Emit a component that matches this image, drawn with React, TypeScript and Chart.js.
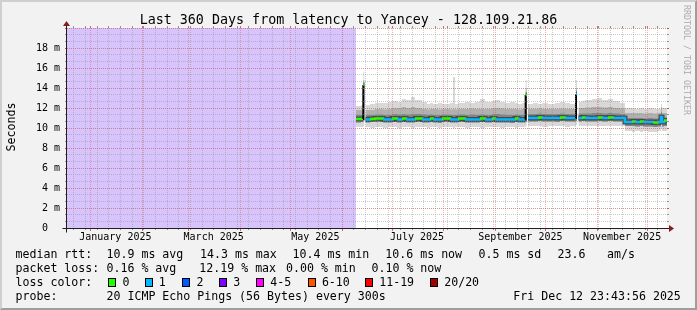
import React, { useEffect, useRef } from 'react';
import { Chart, registerables } from 'chart.js';

Chart.register(...registerables);

const FONT = '"DejaVu Sans Mono", "Liberation Mono", monospace';

// ---------- text ----------
const TITLE = 'Last 360 Days from latency to Yancey - 128.109.21.86';
const Y_TITLE = 'Seconds';
const WATERMARK = 'RRDTOOL / TOBI OETIKER';

// ---------- axes (x in days since graph start, y in ms) ----------
const X_SPAN_DAYS = 360;
const Y_MAX = 20;
const Y_TICKS = [0, 2, 4, 6, 8, 10, 12, 14, 16, 18, 20];
const Y_MINOR_PER_MAJOR = 3;
const MONTH_START_DAYS = [14.011, 45.011, 73.011, 104.011, 134.011, 165.011, 195.011, 226.011, 257.011, 287.011, 318.011, 348.011];
const MONTH_LABEL_DAYS = [29.011, 88.011, 149.011, 210.011, 272.011, 333.011];
const MONTH_LABELS = ['January 2025', 'March 2025', 'May 2025', 'July 2025', 'September 2025', 'November 2025'];
const FIRST_WEEK_DAY = 4.011;
const WEEK_DAYS = 7;

// ---------- data ----------
const UNKNOWN_END_DAY = 173.4;
const DAYS = [
  173.4, 176.4, 177.6, 177.8, 178.5, 178.55, 179.1, 181.8, 184.8, 189.6,
  192.6, 195.0, 198.0, 201.0, 203.4, 206.4, 208.8, 213.0, 216.0, 217.8,
  219.6, 222.6, 225.0, 229.8, 231.6, 232.8, 234.6, 238.8, 241.8, 244.8,
  247.8, 250.8, 255.0, 256.8, 259.8, 262.8, 265.8, 268.8, 270.6, 273.0,
  275.0, 275.2, 275.9, 275.95, 276.6, 279.6, 282.6, 285.0, 288.6, 292.8,
  295.8, 298.8, 301.8, 305.1, 305.4, 306.0, 306.05, 306.9, 309.0, 310.8,
  315.0, 318.6, 321.0, 324.6, 327.6, 331.8, 334.8, 339.0, 340.8, 343.8,
  345.6, 348.6, 351.6, 354.6, 356.4, 357.0, 358.2, 360.0,
];
const MEDIAN = [
  10.9, 10.9, 10.9, 14.3, 14.3, null, 10.85, 10.9, 10.95, 10.85,
  10.85, 10.95, 10.85, 10.95, 10.85, 10.85, 10.95, 10.85, 10.85, 10.95,
  10.85, 10.85, 10.95, 10.85, 10.85, 10.85, 10.95, 10.85, 10.85, 10.85,
  10.95, 10.85, 10.95, 10.85, 10.85, 10.85, 10.85, 10.95, 10.85, 10.85,
  10.85, 13.3, 13.3, null, 11.0, 11.0, 11.05, 11.0, 11.0, 11.0,
  11.05, 11.0, 11.0, 11.0, 13.4, 13.4, null, 11.0, 11.05, 11.0,
  11.0, 11.05, 11.0, 11.05, 11.0, 11.0, 10.6, 10.65, 10.6, 10.65,
  10.6, 10.6, 10.55, 10.6, 11.1, 10.6, 10.75, 10.75,
];
const LOSS = [
  0, 0, 0, 0, 0, 0, 1, 0, 0, 1,
  1, 0, 1, 0, 1, 1, 0, 1, 1, 0,
  1, 1, 0, 1, 1, 1, 0, 1, 1, 1,
  0, 1, 0, 1, 1, 1, 1, 0, 1, 1,
  1, 0, 0, 0, 1, 1, 0, 1, 1, 1,
  0, 1, 1, 1, 1, 1, 1, 1, 0, 1,
  1, 0, 1, 0, 1, 1, 1, 0, 1, 0,
  1, 1, 0, 1, 1, 1, 0, 0,
];
const PING_MIN = [
  10.1, 10.1, 10.1, 10.2, 10.2, null, 10.1, 10.0, 10.1, 10.0,
  10.1, 10.1, 10.0, 10.1, 10.1, 10.0, 10.1, 10.1, 10.0, 10.1,
  10.1, 10.0, 10.1, 10.1, 10.0, 10.1, 10.1, 10.0, 10.1, 10.1,
  10.0, 10.1, 10.1, 10.1, 10.0, 10.1, 10.1, 10.0, 10.1, 10.1,
  10.1, 10.2, 10.2, null, 10.2, 10.2, 10.2, 10.1, 10.2, 10.2,
  10.2, 10.1, 10.2, 10.2, 10.3, 10.3, null, 10.2, 10.2, 10.2,
  10.2, 10.2, 10.2, 10.2, 10.2, 10.2, 9.7, 9.6, 9.7, 9.6,
  9.7, 9.6, 9.6, 9.7, 10.0, 9.7, 9.7, 9.7,
];
const PING_LOW = [
  10.55, 10.6, 10.6, 10.7, 10.7, null, 10.55, 10.6, 10.6, 10.55,
  10.55, 10.6, 10.55, 10.6, 10.55, 10.55, 10.6, 10.55, 10.55, 10.6,
  10.55, 10.5, 10.6, 10.55, 10.55, 10.55, 10.6, 10.55, 10.55, 10.55,
  10.6, 10.55, 10.6, 10.55, 10.55, 10.55, 10.5, 10.6, 10.55, 10.55,
  10.55, 10.6, 10.6, null, 10.65, 10.65, 10.7, 10.65, 10.65, 10.6,
  10.7, 10.65, 10.65, 10.65, 10.7, 10.7, null, 10.65, 10.7, 10.65,
  10.65, 10.7, 10.65, 10.7, 10.65, 10.65, 10.2, 10.2, 10.15, 10.2,
  10.15, 10.15, 10.1, 10.15, 10.5, 10.15, 10.2, 10.2,
];
const PING_HIGH = [
  11.3, 11.3, 11.3, 14.1, 14.1, null, 11.3, 11.3, 11.35, 11.3,
  11.3, 11.4, 11.35, 11.4, 11.35, 11.4, 11.4, 11.35, 11.3, 11.35,
  11.3, 11.3, 11.35, 11.3, 11.3, 11.3, 11.35, 11.3, 11.35, 11.3,
  11.35, 11.3, 11.4, 11.4, 11.35, 11.3, 11.3, 11.35, 11.3, 11.3,
  11.3, 13.2, 13.2, null, 11.4, 11.4, 11.45, 11.4, 11.4, 11.4,
  11.45, 11.4, 11.4, 11.4, 13.3, 13.3, null, 11.45, 11.45, 11.45,
  11.5, 11.5, 11.45, 11.5, 11.45, 11.4, 11.0, 11.0, 11.0, 11.0,
  10.95, 11.0, 10.95, 11.0, 11.6, 11.0, 11.05, 11.05,
];
const PING_UPPER = [
  11.8, 11.8, 11.8, 14.8, 14.8, null, 11.8, 11.8, 11.9, 11.85,
  11.9, 12.0, 12.0, 12.1, 12.0, 12.1, 12.0, 11.9, 11.85, 11.9,
  11.9, 11.85, 11.9, 11.85, 11.9, 11.85, 11.9, 11.9, 11.95, 11.9,
  11.9, 11.9, 12.0, 12.0, 11.95, 11.9, 11.9, 11.9, 11.85, 11.9,
  11.9, 14.0, 14.0, null, 11.9, 11.9, 11.95, 11.9, 11.9, 11.9,
  11.95, 11.9, 11.9, 11.9, 14.0, 14.0, null, 12.0, 12.0, 12.05,
  12.1, 12.1, 12.05, 12.1, 12.0, 11.95, 11.5, 11.5, 11.5, 11.5,
  11.45, 11.5, 11.45, 11.5, 12.1, 11.5, 11.5, 11.5,
];
const PING_MAX = [
  12.2, 12.3, 12.3, 15.6, 15.6, null, 12.3, 12.4, 12.5, 12.5,
  12.6, 12.7, 12.6, 12.9, 12.8, 13.1, 12.8, 12.6, 12.4, 12.5,
  12.4, 12.5, 12.4, 12.5, 15.1, 12.4, 12.5, 12.6, 12.5, 12.6,
  12.9, 12.6, 12.7, 12.8, 12.6, 12.5, 12.6, 12.5, 12.4, 12.5,
  12.5, 14.8, 14.8, null, 12.4, 12.5, 12.4, 12.5, 12.4, 12.5,
  12.6, 12.5, 12.4, 12.4, 14.8, 14.8, null, 12.6, 12.7, 12.8,
  12.9, 13.0, 12.8, 12.9, 12.7, 12.5, 12.0, 12.0, 11.9, 12.0,
  11.9, 12.0, 11.9, 11.9, 12.4, 12.0, 12.0, 12.0,
];

// ---------- legend ----------
const LOSS_LABELS = ['0', '1', '2', '3', '4-5', '6-10', '11-19', '20/20'];
const LOSS_COLORS = ['#26ff00', '#00b8ff', '#0059ff', '#7e00ff', '#ff00ff', '#ff5500', '#ff0000', '#a10000'];
const RTT_LINE = ['median rtt:', '10.9 ms avg', '14.3 ms max', '10.4 ms min', '10.6 ms now', '0.5 ms sd', '23.6', 'am/s'];
const LOSS_LINE = ['packet loss:', '0.16 % avg', '12.19 % max', '0.00 % min', '0.10 % now'];
const PROBE_LINE = ['probe:', '20 ICMP Echo Pings (56 Bytes) every 300s', 'Fri Dec 12 23:43:56 2025'];
const LOSS_COLOR_TITLE = 'loss color:';

// ---------- style ----------
const W = 697;
const H = 310;
const PLOT = { left: 67, top: 28, right: 667, bottom: 228 };
const BG = '#f2f2f2';
const UNKNOWN_COLOR = '#d7c4fc';
const MINOR_GRID = 'rgba(143,143,143,0.45)';
const MAJOR_GRID = 'rgba(222,79,79,0.45)';
const MINOR_TICK = 'rgba(120,120,120,0.8)';
const MAJOR_TICK = 'rgba(200,70,70,0.8)';
const AXIS_COLOR = '#1f1f1f';
const ARROW_COLOR = '#801f1f';
const SPIKE_JUMP = 1.5;

const yMinorTicks: number[] = [];
for (let k = 0; k <= (Y_TICKS.length - 1) * Y_MINOR_PER_MAJOR; k++) {
  yMinorTicks.push((k * (Y_TICKS[1] - Y_TICKS[0])) / Y_MINOR_PER_MAJOR);
}
const weekTicks: number[] = [];
for (let d = FIRST_WEEK_DAY; d < X_SPAN_DAYS; d += WEEK_DAYS) weekTicks.push(d);

const pts = (vals: (number | null)[]) => DAYS.map((d, i) => ({ x: d, y: vals[i] }));

function gridAxis(position: string, ticksArr: number[], color: string, tickColor: string, tickLength: number, onArea: boolean, z: number) {
  const horizontal = position === 'top' || position === 'bottom';
  return {
    type: 'linear',
    position,
    min: 0,
    max: horizontal ? X_SPAN_DAYS : Y_MAX,
    weight: 0,
    ticks: { display: false },
    grid: {
      display: true,
      color,
      lineWidth: 1,
      z,
      drawOnChartArea: onArea,
      drawTicks: true,
      tickLength,
      tickColor,
      tickWidth: 1,
    },
    border: { display: false, dash: [1, 1] },
    afterBuildTicks: (s: any) => {
      s.ticks = ticksArr.map((v) => ({ value: v }));
    },
    afterFit: (s: any) => {
      if (horizontal) s.height = 0;
      else s.width = 0;
    },
  };
}

const framePlugin = {
  id: 'rrdFrame',
  beforeDraw(chart: any) {
    const { ctx, chartArea } = chart;
    ctx.save();
    ctx.fillStyle = '#ffffff';
    ctx.fillRect(chartArea.left, chartArea.top, chartArea.right - chartArea.left, chartArea.bottom - chartArea.top);
    ctx.restore();
  },
  afterDraw(chart: any) {
    const { ctx, chartArea } = chart;
    const xo = chartArea.left - 0.5;
    const yo = chartArea.bottom + 0.5;
    const xe = chartArea.right;
    const ye = chartArea.top;
    ctx.save();
    ctx.strokeStyle = AXIS_COLOR;
    ctx.lineWidth = 1;
    ctx.beginPath();
    ctx.moveTo(xo - 4, yo);
    ctx.lineTo(xe + 4, yo);
    ctx.moveTo(xo, yo + 4);
    ctx.lineTo(xo, ye - 4);
    ctx.stroke();
    ctx.fillStyle = ARROW_COLOR;
    ctx.beginPath();
    ctx.moveTo(xe + 2, yo - 3.5);
    ctx.lineTo(xe + 2, yo + 3.5);
    ctx.lineTo(xe + 7, yo);
    ctx.closePath();
    ctx.fill();
    ctx.beginPath();
    ctx.moveTo(xo - 3.5, ye - 2);
    ctx.lineTo(xo + 3.5, ye - 2);
    ctx.lineTo(xo, ye - 7);
    ctx.closePath();
    ctx.fill();
    ctx.restore();
  },
};

const isJump = (c: any) => c.p1.parsed.y - c.p0.parsed.y > SPIKE_JUMP;

function Txt(props: { x: number; cy: number; size: number; text: string; color?: string }) {
  const lh = Math.round(props.size * 1.25);
  return (
    <div
      style={{
        position: 'absolute',
        left: props.x,
        top: props.cy - lh / 2,
        fontSize: props.size,
        lineHeight: lh + 'px',
        whiteSpace: 'pre',
        color: props.color || '#000',
      }}
    >
      {props.text}
    </div>
  );
}

export default function App() {
  const ref = useRef<HTMLCanvasElement>(null);

  useEffect(() => {
    const canvas = ref.current;
    if (!canvas) return;
    const common = {
      pointRadius: 0,
      borderWidth: 0,
      borderColor: 'rgba(0,0,0,0)',
      stepped: true,
      xAxisID: 'x',
      yAxisID: 'y',
      spanGaps: false,
    };
    const chart = new Chart(canvas, {
      type: 'line',
      data: {
        datasets: [
          {
            ...common,
            label: 'unknown',
            data: [
              { x: 0, y: Y_MAX },
              { x: UNKNOWN_END_DAY, y: Y_MAX },
            ],
            stepped: false,
            fill: 'origin',
            backgroundColor: UNKNOWN_COLOR,
            order: 30,
          },
          { ...common, label: 'min', data: pts(PING_MIN), fill: false, order: 25 },
          { ...common, label: 'low', data: pts(PING_LOW), fill: false, order: 24 },
          { ...common, label: 'max', data: pts(PING_MAX), fill: 1, backgroundColor: '#d8d8d8', order: 10 },
          { ...common, label: 'upper', data: pts(PING_UPPER), fill: 2, backgroundColor: '#b0b0b0', order: 9 },
          { ...common, label: 'high', data: pts(PING_HIGH), fill: 2, backgroundColor: '#858585', order: 8 },
          {
            ...common,
            label: 'core',
            data: pts(MEDIAN),
            fill: false,
            borderWidth: 5,
            borderColor: '#4a4a4a',
            segment: { borderColor: (c: any) => (isJump(c) ? 'rgba(0,0,0,0)' : undefined) },
            order: 2,
          },
          {
            ...common,
            label: 'median',
            data: pts(MEDIAN),
            fill: false,
            borderWidth: 2.5,
            borderColor: LOSS_COLORS[0],
            segment: {
              borderColor: (c: any) => (isJump(c) ? '#000000' : LOSS_COLORS[LOSS[c.p0DataIndex] || 0]),
              borderWidth: (c: any) => (isJump(c) ? 2 : undefined),
            },
            order: 1,
          },
        ],
      },
      options: {
        animation: false,
        responsive: false,
        maintainAspectRatio: false,
        devicePixelRatio: 1,
        events: [],
        layout: { padding: { left: 0, top: PLOT.top, right: W - PLOT.right, bottom: 0 } },
        plugins: { legend: { display: false }, tooltip: { enabled: false }, title: { display: false } },
        scales: {
          xm: gridAxis('top', weekTicks, MINOR_GRID, MINOR_TICK, 2, true, 1),
          xM: gridAxis('top', MONTH_START_DAYS, MAJOR_GRID, MAJOR_TICK, 2, true, 2),
          xmb: gridAxis('bottom', weekTicks, MINOR_GRID, MINOR_TICK, 2, false, 1),
          xMb: gridAxis('bottom', MONTH_START_DAYS, MAJOR_GRID, MAJOR_TICK, 3, false, 2),
          x: {
            type: 'linear',
            position: 'bottom',
            min: 0,
            max: X_SPAN_DAYS,
            weight: 5,
            grid: { display: false, drawTicks: false, tickLength: 0 },
            border: { display: false },
            ticks: {
              autoSkip: false,
              maxRotation: 0,
              minRotation: 0,
              padding: 3,
              color: '#000',
              font: { family: FONT, size: 10 },
              callback: (_v: any, i: number) => MONTH_LABELS[i],
            },
            afterBuildTicks: (s: any) => {
              s.ticks = MONTH_LABEL_DAYS.map((v) => ({ value: v }));
            },
            afterFit: (s: any) => {
              s.height = H - PLOT.bottom;
            },
          },
          y: {
            type: 'linear',
            position: 'left',
            min: 0,
            max: Y_MAX,
            weight: 5,
            grid: {
              color: MAJOR_GRID,
              lineWidth: 1,
              z: 2,
              drawTicks: true,
              tickLength: 2,
              tickColor: MAJOR_TICK,
              tickWidth: 1,
            },
            border: { display: false, dash: [1, 1] },
            ticks: {
              padding: 5,
              color: '#000',
              font: { family: FONT, size: 10 },
              callback: (v: any) => (v === 0 ? '0  ' : v >= Y_MAX ? '' : `${v} m`),
            },
            afterBuildTicks: (s: any) => {
              s.ticks = Y_TICKS.map((v) => ({ value: v }));
            },
            afterFit: (s: any) => {
              s.width = PLOT.left;
            },
          },
          ym: gridAxis('left', yMinorTicks, MINOR_GRID, MINOR_TICK, 2, true, 1),
          yr: gridAxis('right', yMinorTicks, MINOR_GRID, MINOR_TICK, 2, false, 1),
          yR: gridAxis('right', Y_TICKS, MAJOR_GRID, MAJOR_TICK, 2, false, 2),
        } as any,
      } as any,
      plugins: [framePlugin],
    } as any);
    return () => chart.destroy();
  }, []);

  const rttX = [15.5, 106.5, 200, 292.5, 385.3, 478.5, 557.5, 607];
  const lossX = [15.5, 106.5, 199.3, 286, 371.5];
  const boxX = [108.3, 144.6, 182.3, 219, 256, 307.7, 365, 430];
  const probeX = [15.5, 106.5, 513.3];
  const LS = 11.6;

  return (
    <div
      style={{
        position: 'fixed',
        left: 0,
        top: 0,
        width: W,
        height: H,
        background: BG,
        overflow: 'hidden',
        fontFamily: FONT,
      }}
    >
      <canvas ref={ref} width={W} height={H} style={{ position: 'absolute', left: 0, top: 0, width: W, height: H }} />
      <div
        style={{
          position: 'absolute',
          left: 0,
          width: W,
          top: 19.3 - 8.5,
          lineHeight: '17px',
          fontSize: 13.35,
          textAlign: 'center',
          whiteSpace: 'pre',
          color: '#000',
        }}
      >
        {TITLE}
      </div>
      <div
        style={{
          position: 'absolute',
          left: 10.6 - 40,
          top: 127 - 7,
          width: 80,
          height: 14,
          lineHeight: '14px',
          fontSize: LS,
          textAlign: 'center',
          transform: 'rotate(-90deg)',
          color: '#000',
        }}
      >
        {Y_TITLE}
      </div>
      <div
        style={{
          position: 'absolute',
          left: 687 - 70,
          top: 60 - 6,
          width: 140,
          height: 12,
          lineHeight: '12px',
          fontSize: 8.3,
          textAlign: 'center',
          transform: 'rotate(90deg)',
          color: '#ababab',
          whiteSpace: 'pre',
        }}
      >
        {WATERMARK}
      </div>
      {RTT_LINE.map((t, i) => (
        <Txt key={'r' + i} x={rttX[i]} cy={254.4} size={LS} text={t} />
      ))}
      {LOSS_LINE.map((t, i) => (
        <Txt key={'l' + i} x={lossX[i]} cy={268.3} size={LS} text={t} />
      ))}
      <Txt x={15.5} cy={282.3} size={LS} text={LOSS_COLOR_TITLE} />
      {LOSS_LABELS.map((t, i) => (
        <React.Fragment key={'c' + i}>
          <div
            style={{
              position: 'absolute',
              left: boxX[i],
              top: 277.8,
              width: 8,
              height: 9,
              boxSizing: 'border-box',
              border: '1px solid #000',
              background: LOSS_COLORS[i],
            }}
          />
          <Txt x={boxX[i] + 14.2} cy={282.3} size={LS} text={t} />
        </React.Fragment>
      ))}
      {PROBE_LINE.map((t, i) => (
        <Txt key={'p' + i} x={probeX[i]} cy={296.2} size={LS} text={t} />
      ))}
      <div
        style={{
          position: 'absolute',
          left: 0,
          top: 0,
          width: W,
          height: H,
          boxSizing: 'border-box',
          borderStyle: 'solid',
          borderWidth: 2,
          borderColor: '#cfcfcf #9e9e9e #9e9e9e #cfcfcf',
          pointerEvents: 'none',
        }}
      />
    </div>
  );
}
